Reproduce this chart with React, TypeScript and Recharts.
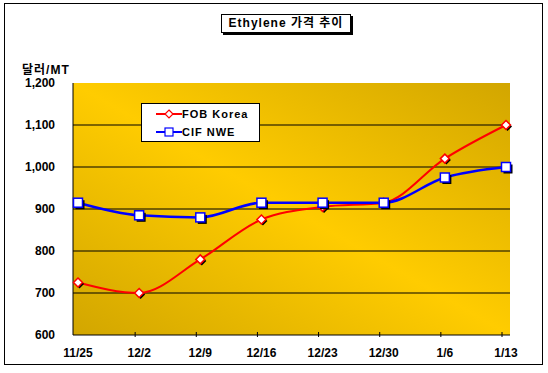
import React from 'react';
import { LineChart, Line, XAxis, YAxis, CartesianGrid } from 'recharts';

const dates = ['11/25', '12/2', '12/9', '12/16', '12/23', '12/30', '1/6', '1/13'];
const fobKorea = [725, 700, 780, 875, 905, 915, 1020, 1100];
const cifNwe = [915, 885, 880, 915, 915, 915, 975, 1000];
const yTicks = [600, 700, 800, 900, 1000, 1100, 1200];
const gridValues = [700, 800, 900, 1000, 1100];

const data = dates.map((d, i) => ({ date: d, fob: fobKorea[i], cif: cifNwe[i] }));

const series = [
  { key: 'fob', name: 'FOB Korea', color: '#ff0000', shape: 'diamond' },
  { key: 'cif', name: 'CIF NWE', color: '#0000ff', shape: 'square' },
];

const font = '"Liberation Sans", Arial, "Noto Sans CJK KR", sans-serif';

const DiamondDot = (props: any) => {
  const { cx, cy } = props;
  if (cx == null || cy == null) return null;
  const r = 4.5;
  const pts = (x: number, y: number) => `${x},${y - r} ${x + r},${y} ${x},${y + r} ${x - r},${y}`;
  return (
    <g>
      <polygon points={pts(cx + 1.5, cy + 1.5)} fill="#000" />
      <polygon points={pts(cx, cy)} fill="#fff" stroke="#ff0000" strokeWidth={1.5} />
    </g>
  );
};

const SquareDot = (props: any) => {
  const { cx, cy } = props;
  if (cx == null || cy == null) return null;
  const s = 9;
  return (
    <g>
      <rect x={cx - s / 2 + 2} y={cy - s / 2 + 2} width={s} height={s} fill="#000" />
      <rect x={cx - s / 2} y={cy - s / 2} width={s} height={s} fill="#fff" stroke="#0000ff" strokeWidth={1.5} />
    </g>
  );
};

const XTick = (props: any) => {
  const { x, y, payload, index } = props;
  return (
    <g>
      {index > 0 && <line x1={x - 4} y1={y} x2={x - 4} y2={y - 5} stroke="#000" />}
      <text x={x} y={y + 20} textAnchor="middle" fontSize={12} fontWeight="bold" fontFamily={font} fill="#000">
        {payload.value}
      </text>
    </g>
  );
};

const LegendBox = () => (
  <div
    style={{
      position: 'absolute',
      left: 141,
      top: 103,
      width: 117,
      height: 37,
      background: '#fff',
      border: '1px solid #000',
      fontFamily: font,
      fontSize: 11,
      fontWeight: 'bold',
      letterSpacing: 1,
    }}
  >
    {series.map((item, i) => (
      <div key={item.name} style={{ display: 'flex', alignItems: 'center', height: 18, marginTop: i === 0 ? 1 : 0 }}>
        <svg width={40} height={12}>
          <line x1={14} y1={6} x2={40} y2={6} stroke={item.color} strokeWidth={2} />
          {item.shape === 'diamond' ? (
            <polygon points="27,2 31,6 27,10 23,6" fill="#fff" stroke={item.color} strokeWidth={1.2} />
          ) : (
            <rect x={23} y={2} width={8} height={8} fill="#fff" stroke={item.color} strokeWidth={1.2} />
          )}
        </svg>
        <span>{item.name}</span>
      </div>
    ))}
  </div>
);

export default function App() {
  return (
    <div style={{ position: 'absolute', left: 0, top: 0, width: 548, height: 373, background: '#fff' }}>
      <div
        style={{
          position: 'absolute',
          left: 4,
          top: 3,
          width: 537,
          height: 360,
          border: '1px solid #000',
        }}
      />
      <div
        style={{
          position: 'absolute',
          left: 221,
          top: 14,
          width: 128,
          height: 17,
          border: '1px solid #000',
          boxShadow: '2px 2px 0 #000',
          background: '#fff',
          fontFamily: font,
          fontSize: 12,
          fontWeight: 'bold',
          letterSpacing: 1,
          textAlign: 'center',
          lineHeight: '17px',
        }}
      >
        Ethylene 가격 추이
      </div>
      <div
        style={{
          position: 'absolute',
          left: 22,
          top: 60,
          fontFamily: font,
          fontSize: 12,
          fontWeight: 'bold',
          letterSpacing: 1,
        }}
      >
        달러/MT
      </div>
      <div style={{ position: 'absolute', left: 0, top: 0 }}>
        <LineChart width={548} height={373} data={data} margin={{ top: 83, right: 38, bottom: 8, left: 8 }}>
          <defs>
            <linearGradient id="bg" x1="1" y1="0" x2="0" y2="1">
              <stop offset="0%" stopColor="#d2a600" />
              <stop offset="50%" stopColor="#ffcc00" />
              <stop offset="100%" stopColor="#d2a600" />
            </linearGradient>
          </defs>
          <CartesianGrid vertical={false} horizontalValues={gridValues} stroke="#000" fill="url(#bg)" fillOpacity={1} />
          <XAxis
            dataKey="date"
            padding={{ left: 5, right: 4 }}
            axisLine={{ stroke: '#000' }}
            tickLine={false}
            tickSize={0}
            tick={<XTick />}
            height={30}
            interval={0}
          />
          <XAxis
            xAxisId="top"
            orientation="top"
            dataKey="date"
            padding={{ left: 5, right: 4 }}
            axisLine={{ stroke: '#808080', strokeWidth: 2 }}
            tick={false}
            tickLine={false}
            height={0}
          />
          <YAxis
            domain={[600, 1200]}
            ticks={yTicks}
            interval={0}
            axisLine={{ stroke: '#000' }}
            tickLine={false}
            tickSize={0}
            tickMargin={18}
            width={65}
            tickFormatter={(v: number) => v.toLocaleString('en-US')}
            tick={{ fill: '#000', fontSize: 12, fontWeight: 'bold', fontFamily: font }}
          />
          <YAxis
            yAxisId="right"
            orientation="right"
            domain={[600, 1200]}
            axisLine={{ stroke: '#808080', strokeWidth: 2 }}
            tick={false}
            tickLine={false}
            width={0}
          />
          <Line
            type="monotone"
            dataKey="fob"
            name="FOB Korea"
            stroke="#ff0000"
            strokeWidth={2}
            dot={<DiamondDot />}
            activeDot={false}
            isAnimationActive={false}
          />
          <Line
            type="monotone"
            dataKey="cif"
            name="CIF NWE"
            stroke="#0000ff"
            strokeWidth={2.5}
            dot={<SquareDot />}
            activeDot={false}
            isAnimationActive={false}
          />
        </LineChart>
      </div>
      <LegendBox />
    </div>
  );
}
